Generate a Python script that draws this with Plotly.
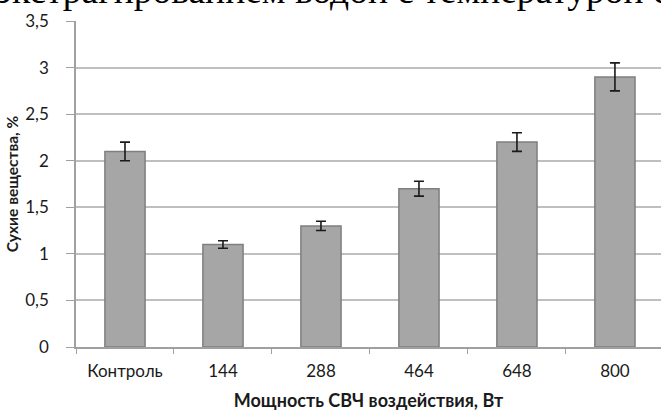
import plotly.graph_objects as go

# Dry matter content versus microwave power
categories = ["Контроль", "144", "288", "464", "648", "800"]
dry_matter = [2.1, 1.1, 1.3, 1.7, 2.2, 2.9]
dry_matter_err = [0.1, 0.04, 0.05, 0.08, 0.1, 0.15]
y_ticks = [0, 0.5, 1, 1.5, 2, 2.5, 3, 3.5]
y_tick_labels = ["0", "0,5", "1", "1,5", "2", "2,5", "3", "3,5"]

W, H = 661, 412
ML, MR, MT, MB = 76, 0, 21, 65

fig = go.Figure(
    go.Bar(
        x=categories,
        y=dry_matter,
        width=0.41,
        marker=dict(color="#a6a6a6", line=dict(color="#7f7f7f", width=1.5)),
        error_y=dict(
            type="data",
            array=dry_matter_err,
            visible=True,
            color="#1a1a1a",
            thickness=1.6,
            width=5,
        ),
    )
)

fig.update_layout(
    width=W,
    height=H,
    margin=dict(l=ML, r=MR, t=MT, b=MB),
    plot_bgcolor="white",
    paper_bgcolor="white",
    showlegend=False,
    bargap=0.59,
    font=dict(family="Lato, Open Sans, sans-serif", size=17, color="#1a1a1a"),
)

fig.update_xaxes(
    type="category",
    range=[-0.5, 5.47],
    tickson="boundaries",
    ticks="outside",
    ticklen=5,
    tickcolor="#a0a0a0",
    tickwidth=1.3,
    showline=True,
    linecolor="#a0a0a0",
    linewidth=1.5,
    showgrid=False,
    tickfont=dict(size=17, color="#1a1a1a"),
    ticklabelstandoff=8,
    title=dict(
        text="<b>Мощность СВЧ воздействия, Вт</b>",
        font=dict(size=18, color="#1a1a1a"),
        standoff=14,
    ),
)

fig.update_yaxes(
    range=[0, 3.5],
    tickvals=y_ticks,
    ticktext=y_tick_labels,
    ticks="outside",
    ticklen=8,
    tickcolor="#a0a0a0",
    tickwidth=1.3,
    showline=True,
    linecolor="#a0a0a0",
    linewidth=1.5,
    showgrid=True,
    gridcolor="#bfbfbf",
    gridwidth=1.5,
    zeroline=False,
    tickfont=dict(size=17, color="#1a1a1a"),
    ticklabelstandoff=14,
    title=dict(
        text="<b>Сухие вещества, %</b>",
        font=dict(size=15.5, color="#1a1a1a"),
        standoff=3,
    ),
)

# Preceding line of the page text, cut at the top edge
fig.add_annotation(
    text="экстрагированием водой с температурой с",
    xref="paper",
    yref="paper",
    x=0,
    y=1,
    xanchor="left",
    yanchor="middle",
    xshift=-ML - 6,
    yshift=31,
    showarrow=False,
    font=dict(family="Liberation Serif, serif", size=37.5, color="#000000"),
)

fig.write_html("out.html")
